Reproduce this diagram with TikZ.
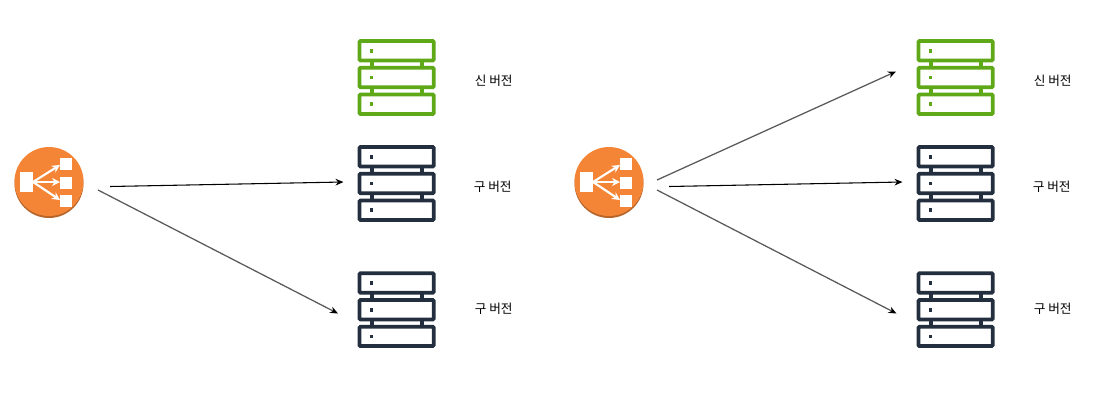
\documentclass[tikz,border=0pt]{standalone}
\usepackage{fontspec}
\setmainfont{Noto Sans CJK KR}
\usetikzlibrary{arrows.meta}
\definecolor{newgreen}{HTML}{5FA818}
\definecolor{oldnavy}{HTML}{232F3E}
\definecolor{lborange}{HTML}{F58536}
\definecolor{lbdark}{HTML}{B7662B}
\definecolor{linegray}{HTML}{5A5A5A}
\tikzset{
  x=0.75pt,y=-0.75pt,
  icon/.style={minimum width=78*0.75pt,minimum height=76*0.75pt,inner sep=0pt,outer sep=0pt},
  lbicon/.style={minimum width=70*0.75pt,minimum height=72*0.75pt,inner sep=0pt,outer sep=0pt},
  label/.style={font=\fontsize{9.5}{11}\selectfont,text=black,inner sep=0pt},
  blackarrow/.style={draw=black,line width=0.8pt,-{Stealth[length=6pt,width=5pt]}},
  grayarrow/.style={draw=linegray,line width=0.95pt,-{Stealth[length=6pt,width=5pt,color=black]}},
  pics/stack/.style={code={
    \foreach \yy in {-26.7,0,26.7}{
      \draw[#1,line width=2.8pt,rounded corners=0.8pt] (-37.2,\yy-9.7) rectangle (37.2,\yy+9.7);
      \fill[#1] (-26.8,\yy-1.9) rectangle (-23.2,\yy+1.9);
    }
    \foreach \yy in {-13.35,13.35}{
      \foreach \xx in {-25,25}{
        \fill[#1] (\xx-2,\yy-3) rectangle (\xx+2,\yy+3);
      }
    }
  }},
  pics/balancer/.style={code={
    \fill[lbdark] (0,1.5) circle[radius=34.5*0.75pt];
    \fill[lborange] (0,-0.5) circle[radius=34.5*0.75pt];
    \fill[white] (-29,-10) rectangle (-16,10);
    \fill[white] (11,-24) rectangle (23,-12);
    \fill[white] (11,-5.5) rectangle (23,6.5);
    \fill[white] (11,13) rectangle (23,25);
    \draw[white,line width=1.6pt,-{Stealth[length=6pt,width=6pt]}] (-16,0) -- (11,-17);
    \draw[white,line width=1.6pt,-{Stealth[length=6pt,width=6pt]}] (-16,0) -- (11,0);
    \draw[white,line width=1.6pt,-{Stealth[length=6pt,width=6pt]}] (-16,0) -- (11,18);
  }}
}
\begin{document}
\begin{tikzpicture}
\useasboundingbox (0,0) rectangle (1104,401);
% left group
\node[lbicon] (lbA) at (49,182) {};
\pic at (lbA.center) {balancer};
\node[icon] (newA) at (396.6,77.5) {};
\pic at (newA.center) {stack=newgreen};
\node[icon] (oldA) at (396.6,183.5) {};
\pic at (oldA.center) {stack=oldnavy};
\node[icon] (oldB) at (396.6,309.7) {};
\pic at (oldB.center) {stack=oldnavy};
\node[label] (tA) at (493.7,81) {신 버전};
\node[label] (tB) at (492.7,187) {구 버전};
\node[label] (tC) at (493.7,309) {구 버전};
% right group
\node[lbicon] (lbB) at (609,182) {};
\pic at (lbB.center) {balancer};
\node[icon] (newB) at (955.6,77.5) {};
\pic at (newB.center) {stack=newgreen};
\node[icon] (oldC) at (955.6,183.5) {};
\pic at (oldC.center) {stack=oldnavy};
\node[icon] (oldD) at (955.6,309.7) {};
\pic at (oldD.center) {stack=oldnavy};
\node[label] (tD) at (1052.7,81) {신 버전};
\node[label] (tE) at (1051.7,187) {구 버전};
\node[label] (tF) at (1052.7,309) {구 버전};
% connector ends
\coordinate (a1) at (110,186.5); \coordinate (a2) at (343.5,182);
\coordinate (b1) at (98,190);    \coordinate (b2) at (338,313.5);
\coordinate (c1) at (657,180);   \coordinate (c2) at (896,71.5);
\coordinate (d1) at (669,186.5); \coordinate (d2) at (902.5,182);
\coordinate (e1) at (657,190);   \coordinate (e2) at (896.5,313.5);
\draw[blackarrow] (a1) -- (a2);
\draw[grayarrow] (b1) -- (b2);
\draw[grayarrow] (c1) -- (c2);
\draw[blackarrow] (d1) -- (d2);
\draw[grayarrow] (e1) -- (e2);
\end{tikzpicture}
\end{document}
